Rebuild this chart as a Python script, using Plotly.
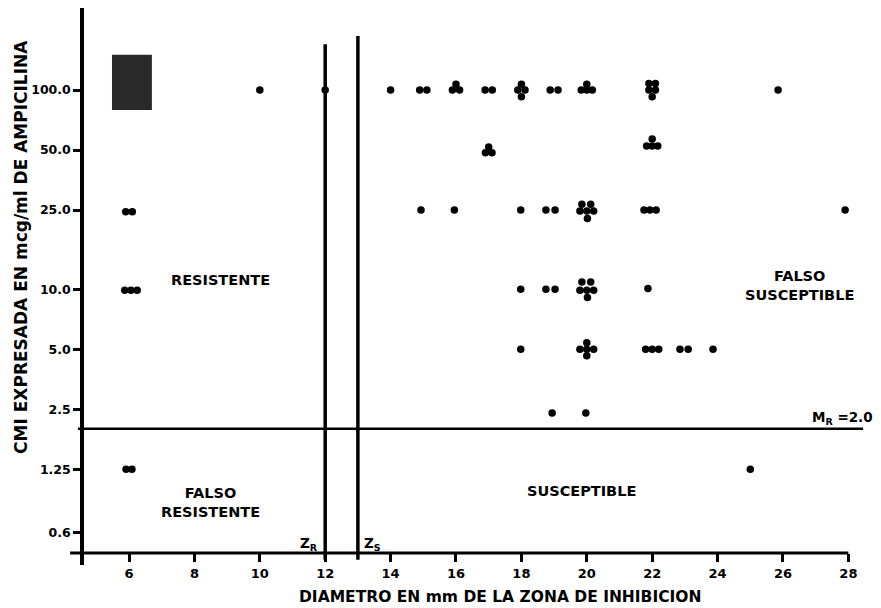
import math
import plotly.graph_objects as go

# ---------------- data ----------------
# MIC level 100.0
x_100 = [10.0, 12.0, 14.0, 14.89, 15.11, 16.0, 15.89, 16.11, 16.89, 17.11,
         18.0, 17.89, 18.11, 18.0, 18.88, 19.12, 20.0, 19.83, 20.0, 20.17,
         21.9, 22.1, 21.9, 22.1, 22.0, 25.85]
y_100 = [100, 100, 100, 100, 100, 107, 100, 100, 100, 100,
         107, 100, 100, 92.5, 100, 100, 107, 100, 100, 100,
         108, 108, 100, 100, 92.5, 100]
# MIC level 50.0
x_50 = [17.0, 16.9, 17.1, 22.0, 21.83, 22.0, 22.17]
y_50 = [51.8, 48.5, 48.5, 56.8, 52.4, 52.4, 52.4]
# MIC level 25.0
x_25 = [5.9, 6.1, 14.93, 15.95, 17.98, 18.75, 19.03, 19.85, 20.12, 19.79, 20.0, 20.21,
        20.02, 21.75, 21.93, 22.12, 27.9]
y_25 = [24.5, 24.5, 25, 25, 25, 25, 25, 26.7, 26.7, 24.7, 24.7, 24.7,
        22.7, 25, 25, 25, 25]
# MIC level 10.0
x_10 = [5.87, 6.06, 6.25, 17.98, 18.75, 19.03, 19.85, 20.12, 19.79, 20.0, 20.21, 20.02, 21.87]
y_10 = [9.9, 9.9, 9.9, 10, 10, 10, 10.9, 10.9, 9.9, 9.9, 9.9, 9.1, 10.1]
# MIC level 5.0
x_5 = [17.98, 20.0, 19.79, 20.0, 20.21, 20.0, 21.8, 22.0, 22.2, 22.85, 23.1, 23.86]
y_5 = [5.0, 5.4, 5.0, 5.0, 5.0, 4.65, 5.0, 5.0, 5.0, 5.0, 5.0, 5.0]
# MIC level 2.5
x_2p5 = [18.94, 19.97]
y_2p5 = [2.4, 2.4]
# MIC level 1.25
x_1p25 = [5.91, 6.09, 25.0]
y_1p25 = [1.25, 1.25, 1.25]

x_ticks = [6, 8, 10, 12, 14, 16, 18, 20, 22, 24, 26, 28]
y_ticks = [0.6, 1.25, 2.5, 5, 10, 25, 50, 100]
y_ticktext = ["0.6", "1.25", "2.5", "5.0", "10.0", "25.0", "50.0", "100.0"]

zn_value = 12      # Zr breakpoint (mm)
zs_value = 13      # Zs breakpoint (mm)
mr_value = 2.0     # Mr breakpoint (mcg/ml)

# ---------------- figure ----------------
FONT = "DejaVu Sans"
all_x = x_100 + x_50 + x_25 + x_10 + x_5 + x_2p5 + x_1p25
all_y = y_100 + y_50 + y_25 + y_10 + y_5 + y_2p5 + y_1p25

x_range = [4.0734, 28.661]
y_range = [math.log10(0.414), math.log10(258.1)]

fig = go.Figure()

# breakpoint lines
fig.add_trace(go.Scatter(x=[zn_value, zn_value], y=[0.44, 170], mode="lines",
                         line=dict(color="black", width=3.5), showlegend=False, hoverinfo="skip"))
fig.add_trace(go.Scatter(x=[zs_value, zs_value], y=[0.44, 187], mode="lines",
                         line=dict(color="black", width=3.5), showlegend=False, hoverinfo="skip"))
fig.add_trace(go.Scatter(x=[4.44, 28.45], y=[mr_value, mr_value], mode="lines",
                         line=dict(color="black", width=2.5), showlegend=False, hoverinfo="skip"))

# data points
fig.add_trace(go.Scatter(x=all_x, y=all_y, mode="markers",
                         marker=dict(color="black", size=7.5, line=dict(width=0)),
                         showlegend=False))

def ly(v):
    return math.log10(v)

ann_font = dict(family=FONT, size=14.5, color="black")
annotations = [
    dict(x=8.81, y=ly(11.1), text="<b>RESISTENTE</b>"),
    dict(x=8.48, y=ly(0.85), text="<b>FALSO<br>RESISTENTE</b>"),
    dict(x=26.5, y=ly(10.4), text="<b>FALSO<br>SUSCEPTIBLE</b>"),
    dict(x=19.85, y=ly(0.97), text="<b>SUSCEPTIBLE</b>"),
]
anns = []
for a in annotations:
    anns.append(dict(xref="x", yref="y", showarrow=False, font=ann_font,
                     align="center", xanchor="center", yanchor="middle", **a))

small_font = dict(family=FONT, size=13.5, color="black")
anns.append(dict(xref="x", yref="y", x=11.85, y=ly(0.53), text="<b>Z<sub>R</sub></b>",
                 showarrow=False, xanchor="right", yanchor="middle", font=small_font))
anns.append(dict(xref="x", yref="y", x=13.12, y=ly(0.53), text="<b>Z<sub>S</sub></b>",
                 showarrow=False, xanchor="left", yanchor="middle", font=small_font))
anns.append(dict(xref="paper", yref="y", x=1.006, y=ly(2.25), text="<b>M<sub>R</sub> =2.0</b>",
                 showarrow=False, xanchor="right", yanchor="middle", font=small_font))
# axis titles
anns.append(dict(xref="paper", yref="paper", x=0.54, y=-0.058,
                 text="<b>DIAMETRO EN mm DE LA ZONA DE INHIBICION</b>",
                 showarrow=False, xanchor="center", yanchor="middle",
                 font=dict(family=FONT, size=15.5, color="black")))
anns.append(dict(xref="paper", yref="paper", x=-0.056, y=0.571,
                 text="<b>CMI EXPRESADA EN mcg/ml DE AMPICILINA</b>", textangle=-90,
                 showarrow=False, xanchor="center", yanchor="middle",
                 font=dict(family=FONT, size=17, color="black")))

shapes = [
    # x-axis line (stops at 28)
    dict(type="line", xref="x", yref="paper", x0=4.2, x1=28.0, y0=0.02154, y1=0.02154,
         line=dict(color="black", width=3)),
    # dark stamp at top-left of the scan
    dict(type="rect", xref="x", yref="paper", x0=5.48, x1=6.70, y0=0.817, y1=0.916,
         fillcolor="#2a2a2a", line=dict(width=0), layer="above"),
]

# The page body adds an 8 px margin, so the figure is 8 px smaller on each axis.
fig.update_layout(
    width=873, height=600,
    margin=dict(l=58, r=11, t=0, b=43, autoexpand=False),
    paper_bgcolor="white", plot_bgcolor="white",
    showlegend=False,
    annotations=anns,
    shapes=shapes,
    xaxis=dict(range=x_range, domain=[0, 1], anchor="free", position=0.02154,
               automargin=False,
               showline=False, showgrid=False, zeroline=False,
               tickvals=x_ticks, ticks="outside", ticklen=8, tickwidth=2.5, tickcolor="black",
               tickfont=dict(family=FONT, size=13, color="black", weight="bold")),
    yaxis=dict(type="log", range=y_range, domain=[0, 1], anchor="free", position=0.0199,
               automargin=False,
               showline=True, linewidth=3.5, linecolor="black",
               showgrid=False, zeroline=False,
               tickvals=y_ticks, ticktext=y_ticktext,
               ticks="outside", ticklen=7, tickwidth=2.5, tickcolor="black",
               tickfont=dict(family=FONT, size=12.5, color="black", weight="bold")),
)

fig.write_html("out.html")
